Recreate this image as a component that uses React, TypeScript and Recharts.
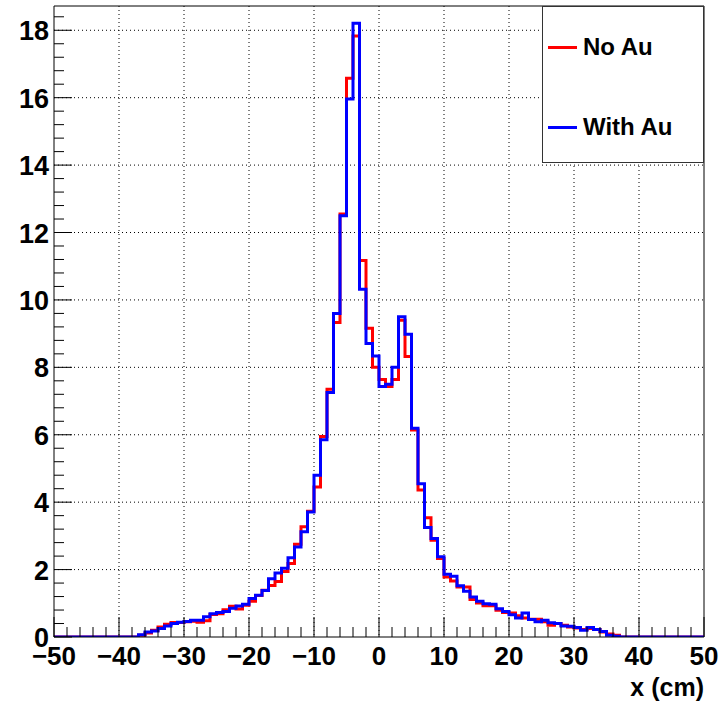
import { CartesianGrid, Line, LineChart, ReferenceLine, XAxis, YAxis } from 'recharts'

// bin contents, 1 cm bins from -50 to 50 (index 0 = [-50,-49])
const noAu = [
  0, 0, 0, 0, 0, 0, 0, 0, 0, 0,
  0, 0, 0, 0.05, 0.12, 0.2, 0.3, 0.38, 0.43, 0.43,
  0.45, 0.47, 0.44, 0.48, 0.67, 0.69, 0.81, 0.91, 0.83, 0.94,
  1.06, 1.23, 1.39, 1.53, 1.65, 1.94, 2.18, 2.75, 3.27, 3.73,
  4.45, 5.95, 7.35, 9.33, 12.55, 16.58, 17.83, 11.17, 9.16, 8.0,
  7.64, 7.43, 7.64, 9.4, 8.32, 6.14, 4.36, 3.54, 2.87, 2.33,
  1.78, 1.66, 1.48, 1.48, 1.11, 1.01, 0.93, 0.93, 0.79, 0.73,
  0.71, 0.63, 0.56, 0.53, 0.53, 0.45, 0.35, 0.4, 0.35, 0.3,
  0.27, 0.22, 0.25, 0.22, 0.15, 0.09, 0.05, 0, 0, 0,
  0, 0, 0, 0, 0, 0, 0, 0, 0, 0,
]

const withAu = [
  0, 0, 0, 0, 0, 0, 0, 0, 0, 0,
  0, 0, 0, 0.07, 0.15, 0.18, 0.25, 0.33, 0.4, 0.44,
  0.46, 0.5, 0.5, 0.6, 0.69, 0.73, 0.76, 0.85, 0.92, 0.97,
  1.14, 1.24, 1.38, 1.73, 1.9, 2.04, 2.35, 2.67, 3.12, 3.71,
  4.8, 5.85, 7.25, 9.6, 12.5, 15.96, 18.21, 10.32, 8.71, 8.34,
  7.43, 7.5, 8.0, 9.5, 8.98, 6.19, 4.55, 3.25, 2.92, 2.38,
  1.86, 1.8, 1.52, 1.36, 1.19, 1.06, 0.99, 0.97, 0.84, 0.76,
  0.66, 0.56, 0.71, 0.52, 0.45, 0.5, 0.42, 0.4, 0.33, 0.32,
  0.28, 0.2, 0.28, 0.22, 0.16, 0.05, 0.02, 0, 0, 0,
  0, 0, 0, 0, 0, 0, 0, 0, 0, 0,
]

const X_MIN = -50
const X_MAX = 50
const Y_MAX = 18.72

const xTicks = Array.from({ length: 51 }, (_, i) => X_MIN + i * 2)
const yTicks = Array.from({ length: 47 }, (_, i) => +(i * 0.4).toFixed(1))
const xGrid = [-40, -30, -20, -10, 0, 10, 20, 30, 40]
const yGrid = [2, 4, 6, 8, 10, 12, 14, 16, 18]

const FONT = '"Liberation Sans", Arial, Helvetica, sans-serif'

// step data: value at left bin edge, plus closing point at x = 50
const chartData = [
  ...noAu.map((v, i) => ({ x: X_MIN + i, noAu: v, withAu: withAu[i] })),
  { x: X_MAX, noAu: noAu[noAu.length - 1], withAu: withAu[withAu.length - 1] },
]

function XTick({ x, y, payload }: any) {
  const v = payload.value
  const major = v % 10 === 0
  return (
    <g>
      <line x1={x} x2={x} y1={y} y2={y - (major ? 20 : 10)} stroke="#000" strokeWidth={1} />
      {major && (
        <text x={x} y={y + 28} textAnchor="middle" fontSize={26} fontWeight="bold" fontFamily={FONT} fill="#000">
          {v < 0 ? `\u2212${-v}` : v}
        </text>
      )}
    </g>
  )
}

function YTick({ x, y, payload }: any) {
  const v = payload.value
  const major = Math.abs(v / 2 - Math.round(v / 2)) < 1e-6
  return (
    <g>
      <line x1={x} x2={x + (major ? 18 : 10)} y1={y} y2={y} stroke="#000" strokeWidth={1} />
      {major && (
        <text x={x - 5} y={y + 10} textAnchor="end" fontSize={27} fontWeight="bold" fontFamily={FONT} fill="#000">
          {v}
        </text>
      )}
    </g>
  )
}

export default function App() {
  return (
    <div style={{ position: 'absolute', left: 0, top: 0, width: 725, height: 706, background: '#fff' }}>
      <LineChart width={725} height={706} data={chartData} margin={{ top: 6, right: 21, bottom: 0, left: 0 }}>
        <CartesianGrid
          stroke="#000"
          strokeDasharray="1 3"
          horizontalValues={yGrid}
          verticalValues={xGrid}
        />
        <XAxis
          dataKey="x"
          type="number"
          domain={[X_MIN, X_MAX]}
          ticks={xTicks}
          interval={0}
          height={69}
          tickSize={0}
          tickMargin={0}
          tick={<XTick />}
          axisLine={{ stroke: '#000' }}
          tickLine={false}
          allowDataOverflow
        />
        <YAxis
          type="number"
          domain={[0, Y_MAX]}
          ticks={yTicks}
          interval={0}
          width={54}
          tickSize={0}
          tickMargin={0}
          tick={<YTick />}
          axisLine={{ stroke: '#000' }}
          tickLine={false}
          allowDataOverflow
        />
        <ReferenceLine y={Y_MAX} stroke="#000" strokeWidth={1} />
        <ReferenceLine x={X_MAX} stroke="#000" strokeWidth={1} />
        <Line
          type="stepAfter"
          dataKey="noAu"
          stroke="#ff0000"
          strokeWidth={3}
          dot={false}
          activeDot={false}
          isAnimationActive={false}
        />
        <Line
          type="stepAfter"
          dataKey="withAu"
          stroke="#0000ff"
          strokeWidth={3}
          dot={false}
          activeDot={false}
          isAnimationActive={false}
        />
        <text x={704} y={696} textAnchor="end" fontSize={25} fontWeight="bold" fontFamily={FONT} fill="#000">
          x (cm)
        </text>
      </LineChart>
      <div
        style={{
          position: 'absolute',
          left: 542,
          top: 6,
          width: 162,
          height: 157,
          boxSizing: 'border-box',
          border: '1px solid #333',
          background: '#fff',
          fontFamily: FONT,
          fontWeight: 'bold',
          fontSize: 24,
        }}
      >
        {[
          { name: 'No Au', color: '#ff0000', top: 40 },
          { name: 'With Au', color: '#0000ff', top: 120 },
        ].map((it) => (
          <div key={it.name} style={{ position: 'absolute', left: 5, top: it.top - 14, height: 28, display: 'flex', alignItems: 'center' }}>
            <div style={{ width: 29, height: 3, background: it.color, marginRight: 6 }} />
            <span>{it.name}</span>
          </div>
        ))}
      </div>
    </div>
  )
}
